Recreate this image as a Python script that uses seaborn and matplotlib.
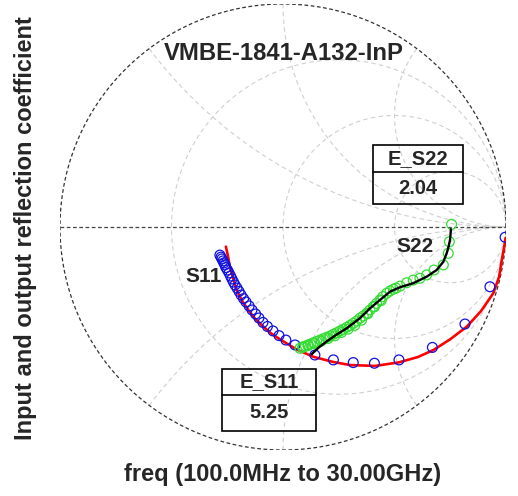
import numpy as np
import pandas as pd
import matplotlib
matplotlib.use("Agg")
import matplotlib.pyplot as plt
from matplotlib.patches import Rectangle
import seaborn as sns

# ---------------- data (reflection coefficient, real / imag) ----------------
s11_meas_re = [-0.283, -0.278, -0.274, -0.269, -0.265, -0.260, -0.256, -0.249, -0.242, -0.235,
               -0.229, -0.222, -0.215, -0.206, -0.197, -0.188, -0.177, -0.166, -0.152, -0.139,
               -0.123, -0.108, -0.090, -0.070, -0.045, -0.018, 0.013, 0.054, 0.143, 0.226,
               0.315, 0.410, 0.520, 0.670, 0.816, 0.928, 0.996]
s11_meas_im = [-0.126, -0.135, -0.143, -0.152, -0.161, -0.170, -0.182, -0.193, -0.206, -0.220,
               -0.233, -0.247, -0.260, -0.274, -0.289, -0.305, -0.321, -0.336, -0.354, -0.372,
               -0.390, -0.408, -0.428, -0.446, -0.466, -0.487, -0.507, -0.529, -0.574, -0.596,
               -0.608, -0.611, -0.596, -0.540, -0.435, -0.268, -0.046]

s11_model_re = [-0.256, -0.247, -0.238, -0.224, -0.208, -0.184, -0.156, -0.126, -0.088, -0.052,
                -0.013, 0.061, 0.136, 0.224, 0.300, 0.413, 0.520, 0.605, 0.674, 0.749,
                0.824, 0.888, 0.943, 0.969, 0.981, 0.991, 0.998]
s11_model_im = [-0.088, -0.130, -0.178, -0.229, -0.283, -0.330, -0.372, -0.410, -0.447, -0.478,
                -0.504, -0.549, -0.582, -0.605, -0.619, -0.623, -0.607, -0.583, -0.552, -0.504,
                -0.447, -0.377, -0.297, -0.224, -0.148, -0.094, -0.049]

s22_meas_re = [0.756, 0.746, 0.741, 0.719, 0.677, 0.644, 0.614, 0.584, 0.555, 0.525,
               0.507, 0.495, 0.480, 0.465, 0.448, 0.435, 0.419, 0.405, 0.390, 0.375,
               0.360, 0.345, 0.330, 0.315, 0.300, 0.286, 0.270, 0.256, 0.241, 0.226,
               0.211, 0.196, 0.181, 0.166, 0.151, 0.136, 0.123, 0.113, 0.101, 0.091,
               0.076, 0.440, 0.410, 0.380, 0.352, 0.322, 0.292, 0.262, 0.232, 0.202,
               0.172, 0.142, 0.112, 0.088]
s22_meas_im = [0.012, -0.066, -0.118, -0.170, -0.193, -0.215, -0.230, -0.238, -0.250, -0.265,
               -0.274, -0.279, -0.287, -0.297, -0.312, -0.327, -0.343, -0.357, -0.372, -0.387,
               -0.399, -0.409, -0.422, -0.432, -0.442, -0.450, -0.459, -0.466, -0.474, -0.481,
               -0.489, -0.495, -0.501, -0.507, -0.513, -0.519, -0.525, -0.529, -0.534, -0.537,
               -0.544, -0.330, -0.358, -0.389, -0.418, -0.441, -0.458, -0.473, -0.488, -0.500,
               -0.512, -0.522, -0.532, -0.540]

s22_model_re = [0.753, 0.751, 0.749, 0.742, 0.734, 0.719, 0.689, 0.644, 0.584, 0.525,
                0.480, 0.435, 0.390, 0.345, 0.286, 0.241, 0.196, 0.157, 0.129]
s22_model_im = [-0.010, -0.036, -0.058, -0.090, -0.118, -0.156, -0.193, -0.223, -0.252, -0.270,
                -0.290, -0.327, -0.365, -0.409, -0.454, -0.482, -0.513, -0.543, -0.570]

title = "VMBE-1841-A132-InP"
xlabel = "freq (100.0MHz to 30.00GHz)"
ylabel = "Input and output reflection coefficient"
e_s11_label, e_s11_value = "E_S11", "5.25"
e_s22_label, e_s22_value = "E_S22", "2.04"
r_grid = [1 / 3, 1.0, 3.0]
x_grid = [0.5, 1.0, 2.0]

# ---------------- figure ----------------
sns.set_style("white")
plt.rcParams["font.family"] = ["Liberation Sans", "DejaVu Sans"]

W, H = 518, 496
fig = plt.figure(figsize=(W / 100, H / 100), dpi=100)
cx, cy, R = 283, 227, 223
ax = fig.add_axes([(cx - R) / W, (H - cy - R) / H, 2 * R / W, 2 * R / H])
ax.set_xlim(-1, 1)
ax.set_ylim(-1, 1)
ax.set_axis_off()


def fx(px):
    return px / W


def fy(py):
    return 1 - py / H


grid_kw = dict(color="#cfcfcf", lw=0.8, ls=(0, (4, 3)), zorder=1)
# constant-resistance circles
for r in r_grid:
    c = r / (1 + r)
    rad = 1 / (1 + r)
    t = np.linspace(0, 2 * np.pi, 400)
    ax.plot(c + rad * np.cos(t), rad * np.sin(t), **grid_kw)
# constant-reactance arcs
rr = np.concatenate([np.linspace(0, 5, 400), np.logspace(np.log10(5), 4, 300)])
for xv in x_grid:
    for s in (1, -1):
        z = rr + 1j * s * xv
        g = (z - 1) / (z + 1)
        ax.plot(g.real, g.imag, **grid_kw)
# outer circle and real axis
t = np.linspace(0, 2 * np.pi, 600)
ax.plot(np.cos(t), np.sin(t), color="#333333", lw=0.9, ls=(0, (3, 2)), zorder=2)
ax.plot([-1, 1], [0, 0], color="#444444", lw=0.9, ls=(0, (3, 2)), zorder=2)

# model lines
sns.lineplot(x=s11_model_re, y=s11_model_im, sort=False, color="red", lw=1.9, ax=ax, zorder=3)
sns.lineplot(x=s22_model_re, y=s22_model_im, sort=False, color="black", lw=1.7, ax=ax, zorder=5)
# measured points
sns.scatterplot(x=s11_meas_re, y=s11_meas_im, marker="o", s=50, color="none",
                edgecolor="#1010e0", linewidth=0.9, ax=ax, zorder=4)
sns.scatterplot(x=s22_meas_re, y=s22_meas_im, marker="o", s=50, color="none",
                edgecolor="#33dd33", linewidth=0.9, ax=ax, zorder=4)

# texts
fig.text(fx(284), fy(53), title, ha="center", va="center", fontsize=17.2, fontweight="bold")
fig.text(fx(283), fy(475), xlabel, ha="center", va="center", fontsize=17, fontweight="bold")
fig.text(fx(26), fy(228), ylabel, ha="center", va="center", rotation=90, fontsize=17,
         fontweight="bold")
fig.text(fx(204), fy(277), "S11", ha="center", va="center", fontsize=15, fontweight="bold")
fig.text(fx(415), fy(246), "S22", ha="center", va="center", fontsize=15, fontweight="bold")


def value_box(x0, y0, x1, y1, ymid, label, value):
    fig.add_artist(Rectangle((fx(x0), fy(y1)), fx(x1) - fx(x0), fy(y0) - fy(y1),
                             transform=fig.transFigure, fill=False, ec="black", lw=1.2,
                             zorder=6))
    fig.add_artist(plt.Line2D([fx(x0), fx(x1)], [fy(ymid), fy(ymid)],
                              transform=fig.transFigure, color="black", lw=1.2, zorder=6))
    xm = (x0 + x1) / 2
    fig.text(fx(xm), fy((y0 + ymid) / 2), label, ha="center", va="center", fontsize=14.5,
             fontweight="bold")
    fig.text(fx(xm), fy((ymid + y1) / 2), value, ha="center", va="center", fontsize=14.5,
             fontweight="bold")


value_box(373, 145, 463, 204, 172, e_s22_label, e_s22_value)
value_box(222, 369, 316, 431, 395, e_s11_label, e_s11_value)

fig.savefig("out.png", dpi=100)
